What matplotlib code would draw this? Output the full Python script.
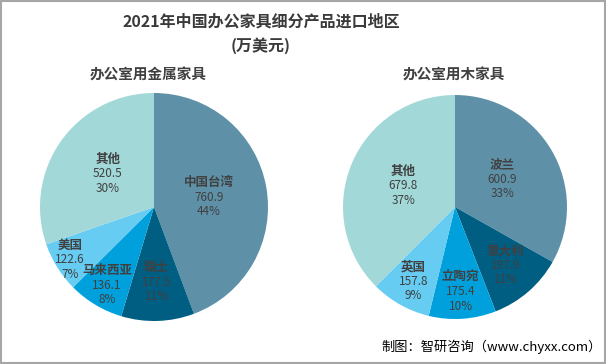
import numpy as np
import matplotlib.pyplot as plt
from matplotlib.patches import Rectangle

plt.rcParams['font.family'] = ['Noto Sans CJK SC', 'DejaVu Sans']

# Data
metal_names = ['中国台湾', '瑞士', '马来西亚', '美国', '其他']
metal_values = [760.9, 177.5, 136.1, 122.6, 520.5]
metal_pcts = ['44%', '11%', '8%', '7%', '30%']

wood_names = ['波兰', '意大利', '立陶宛', '英国', '其他']
wood_values = [600.9, 197.9, 175.4, 157.8, 679.8]
wood_pcts = ['33%', '11%', '10%', '9%', '37%']

colors = ['#5e91a8', '#005e82', '#00a0dc', '#66ccf2', '#a3d8d8']
text_color = '#404040'

W, H = 606, 364
fig = plt.figure(figsize=(W / 100, H / 100), dpi=100)


def draw_pie(cx, cy, r, names, values, pcts, label_r, subtitle, sub_x):
    ax = fig.add_axes([(cx - r) / W, (H - cy - r) / H, 2 * r / W, 2 * r / H])
    wedges, _ = ax.pie(values, colors=colors, startangle=90, counterclock=False,
                       radius=1, wedgeprops=dict(linewidth=0))
    ax.set_xlim(-1, 1)
    ax.set_ylim(-1, 1)
    ax.set_aspect('equal')
    ax.axis('off')
    for w, name, val, pct, lr in zip(wedges, names, values, pcts, label_r):
        ang = np.deg2rad((w.theta1 + w.theta2) / 2)
        x, y = lr * np.cos(ang), lr * np.sin(ang)
        ax.annotate(name, (x, y), xytext=(0, 10.5), textcoords='offset points',
                    ha='center', va='center', fontsize=9, fontweight='bold',
                    color=text_color)
        ax.annotate('%.1f' % val, (x, y), ha='center', va='center',
                    fontsize=8.5, color=text_color)
        ax.annotate(pct, (x, y), xytext=(0, -10.5), textcoords='offset points',
                    ha='center', va='center', fontsize=8.5, color=text_color)
    fig.text(sub_x / W, 1 - 75 / H, subtitle, ha='center', va='center',
             fontsize=10.5, fontweight='bold', color=text_color)


draw_pie(154, 207, 114, metal_names, metal_values, metal_pcts,
         [0.49, 0.66, 0.8, 0.87, 0.5], '办公室用金属家具', 148)
draw_pie(455, 207, 112, wood_names, wood_values, wood_pcts,
         [0.49, 0.69, 0.76, 0.76, 0.5], '办公室用木家具', 454)

# Titles
fig.text(261 / W, 1 - 22 / H, '2021年中国办公家具细分产品进口地区', ha='center', va='center',
         fontsize=11.5, fontweight='bold', color='#3a3a3a')
fig.text(261 / W, 1 - 46 / H, '(万美元)', ha='center', va='center',
         fontsize=11.5, fontweight='bold', color='#3a3a3a')

# Source
fig.text(602 / W, 1 - 347 / H, '制图：智研咨询（www.chyxx.com）', ha='right', va='center',
         fontsize=9.5, color='black')

# Frame
fig.patches.append(Rectangle((0.5 / W, 1 / H), 1 - 2 / W, 1 - 2 / H,
                             transform=fig.transFigure, fill=False,
                             edgecolor='#a6a6a6', linewidth=1.5))

fig.savefig('out.png', dpi=100)
